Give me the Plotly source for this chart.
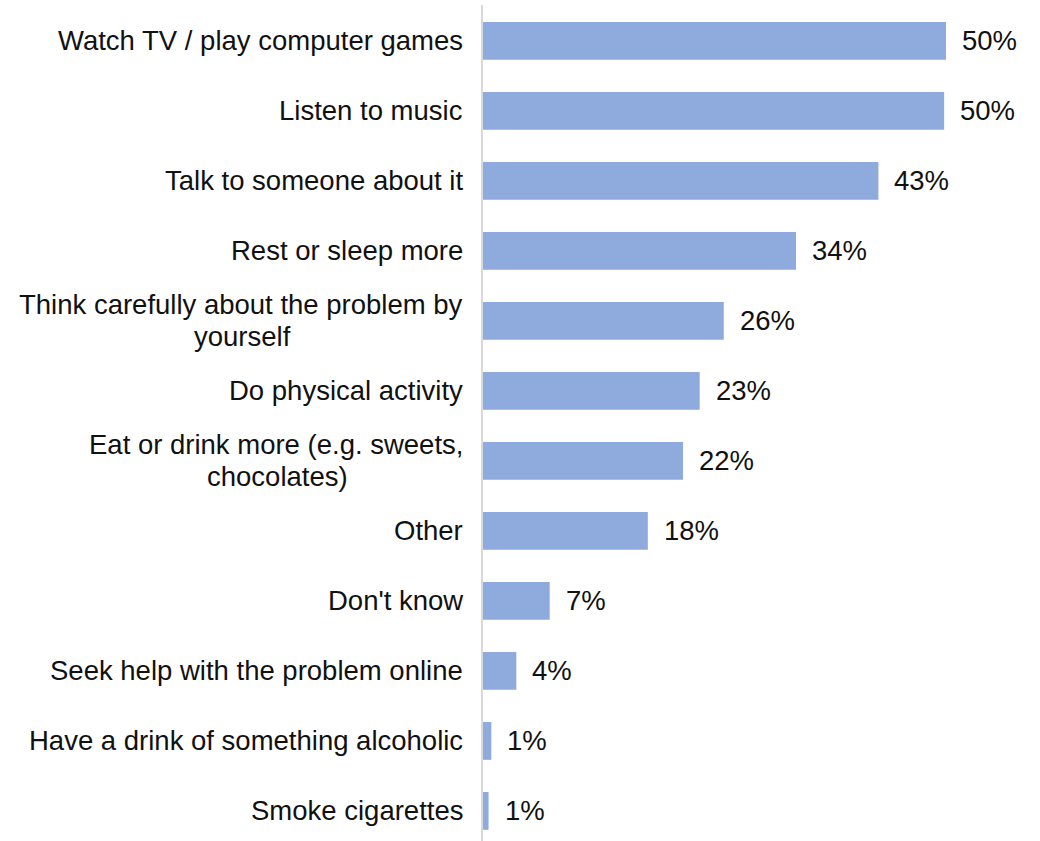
import plotly.graph_objects as go

categories = [
    "Watch TV / play computer games",
    "Listen to music",
    "Talk to someone about it",
    "Rest or sleep more",
    "Think carefully about the problem by<br>yourself",
    "Do physical activity",
    "Eat or drink more (e.g. sweets,<br>chocolates)",
    "Other",
    "Don't know",
    "Seek help with the problem online",
    "Have a drink of something alcoholic",
    "Smoke cigarettes",
]
values = [50.0, 49.8, 42.7, 33.8, 26.0, 23.4, 21.6, 17.8, 7.2, 3.6, 0.9, 0.6]
value_labels = ["50%", "50%", "43%", "34%", "26%", "23%", "22%", "18%", "7%", "4%", "1%", "1%"]

FONT = "Liberation Sans, Arial, sans-serif"
TXT = "#111111"
FS = 27.5
GAP = 18
# approximate rendered widths (px) of the first line of wrapped labels, used to centre the 2nd line
FIRST_LINE_W = {4: 443, 6: 373}

idx = list(range(len(categories)))

fig = go.Figure(go.Bar(
    x=values, y=idx, orientation="h",
    marker=dict(color="#8FAADC", line=dict(width=0)),
    width=0.54, hoverinfo="skip",
))

annotations = []
for i, (cat, v, lab) in enumerate(zip(categories, values, value_labels)):
    lines = cat.split("<br>")
    if len(lines) == 1:
        annotations.append(dict(
            x=0, xref="x", y=i, yref="y", text=cat, showarrow=False,
            xanchor="right", yanchor="middle", xshift=-GAP,
            font=dict(family=FONT, size=FS, color=TXT),
        ))
    else:
        annotations.append(dict(
            x=0, xref="x", y=i, yref="y", text=lines[0], showarrow=False,
            xanchor="right", yanchor="middle", xshift=-GAP, yshift=16,
            font=dict(family=FONT, size=FS, color=TXT),
        ))
        annotations.append(dict(
            x=0, xref="x", y=i, yref="y", text=lines[1], showarrow=False,
            xanchor="center", yanchor="middle",
            xshift=-(GAP + 1 + FIRST_LINE_W[i] / 2), yshift=-16,
            font=dict(family=FONT, size=FS, color=TXT),
        ))
    annotations.append(dict(
        x=v, xref="x", y=i, yref="y", text=lab, showarrow=False,
        xanchor="left", yanchor="middle", xshift=14,
        font=dict(family=FONT, size=FS, color=TXT),
    ))

fig.update_layout(
    width=1040, height=841,
    margin=dict(l=483, r=0, t=5, b=0),
    paper_bgcolor="white", plot_bgcolor="white",
    showlegend=False,
    annotations=annotations,
    xaxis=dict(range=[0, 60.15], showgrid=False, zeroline=False,
               showticklabels=False, showline=False, ticks=""),
    yaxis=dict(range=[11.43, -0.514], showgrid=False, zeroline=False,
               showticklabels=False, ticks="", showline=True,
               linecolor="#d9d9d9", linewidth=2),
)

fig.write_html("out.html", config={"displayModeBar": False},
               post_script="document.body.style.margin='0';document.body.style.overflow='hidden';")
